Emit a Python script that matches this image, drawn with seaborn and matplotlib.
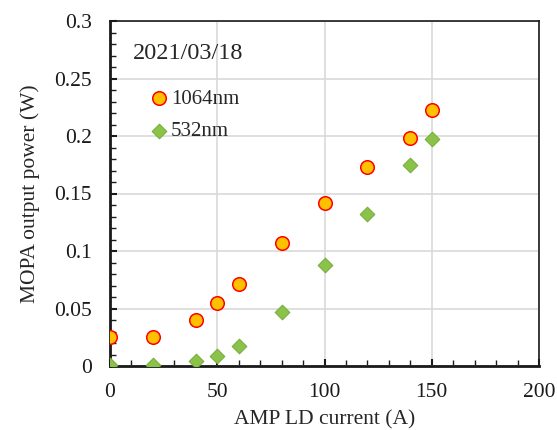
import matplotlib
matplotlib.use('Agg')
import matplotlib.pyplot as plt
import pandas as pd
import seaborn as sns
from matplotlib.ticker import MultipleLocator

# Data
current = [0, 20, 40, 50, 60, 80, 100, 120, 140, 150]
power_1064 = [0.025, 0.025, 0.040, 0.055, 0.071, 0.107, 0.142, 0.173, 0.198, 0.223]
power_532 = [0.001, 0.001, 0.004, 0.009, 0.017, 0.047, 0.088, 0.132, 0.175, 0.197]

df = pd.DataFrame({'current': current, '1064nm': power_1064, '532nm': power_532})

sns.set_style('white')
plt.rcParams['font.family'] = ['Liberation Serif', 'DejaVu Serif']

fig = plt.figure(figsize=(5.57, 4.30), dpi=100)
ax = fig.add_axes([110 / 557, 1 - 366 / 430, 429 / 557, 345 / 430])

sns.scatterplot(data=df, x='current', y='1064nm', ax=ax, marker='o', s=95,
                color='#FFC000', edgecolor='#FF0000', linewidth=1.1, label='1064nm', zorder=3)
sns.scatterplot(data=df, x='current', y='532nm', ax=ax, marker='D', s=55,
                color='#8BC34A', edgecolor='#7AAE3E', linewidth=0.8, label='532nm', zorder=3)

ax.set_xlim(0, 200)
ax.set_ylim(0, 0.3)
ax.xaxis.set_minor_locator(MultipleLocator(10))
ax.yaxis.set_minor_locator(MultipleLocator(0.01))
ax.set_yticks([0, 0.05, 0.1, 0.15, 0.2, 0.25, 0.3])
ax.set_yticklabels(['0', '0.05', '0.1', '0.15', '0.2', '0.25', '0.3'])
ax.set_xticks([0, 50, 100, 150, 200])
ax.set_xticklabels(['0', '50', '100', '150', '200'])

ax.grid(True, which='major', color='#D9D9D9', linewidth=1.2)
ax.set_axisbelow(True)
ax.tick_params(axis='both', which='major', direction='in', length=5, width=1.5,
               labelsize=15.5, colors='#1A1A1A', left=True, bottom=True)
ax.tick_params(axis='y', which='major', pad=13)
ax.tick_params(axis='x', which='major', pad=12)
ax.tick_params(axis='both', which='minor', direction='in', length=4, width=1,
               colors='#1A1A1A', left=True, bottom=True)
for side in ['left', 'bottom']:
    ax.spines[side].set_color('#1A1A1A')
    ax.spines[side].set_linewidth(2)
for side in ['right', 'top']:
    ax.spines[side].set_color('#1A1A1A')
    ax.spines[side].set_linewidth(1.2)

ax.set_xlabel('AMP LD current (A)', fontsize=15.5, labelpad=6)
ax.set_ylabel('MOPA output power (W)', fontsize=15.5, labelpad=10)

ax.text(0.054, 0.935, '2021/03/18', transform=ax.transAxes, fontsize=17.5, va='top', ha='left')
ax.legend(loc='upper left', bbox_to_anchor=(0.057, 0.826), frameon=False, fontsize=15,
          handletextpad=-0.25, labelspacing=0.6, borderaxespad=0, handlelength=1.6)

fig.savefig('out.png', dpi=100)
